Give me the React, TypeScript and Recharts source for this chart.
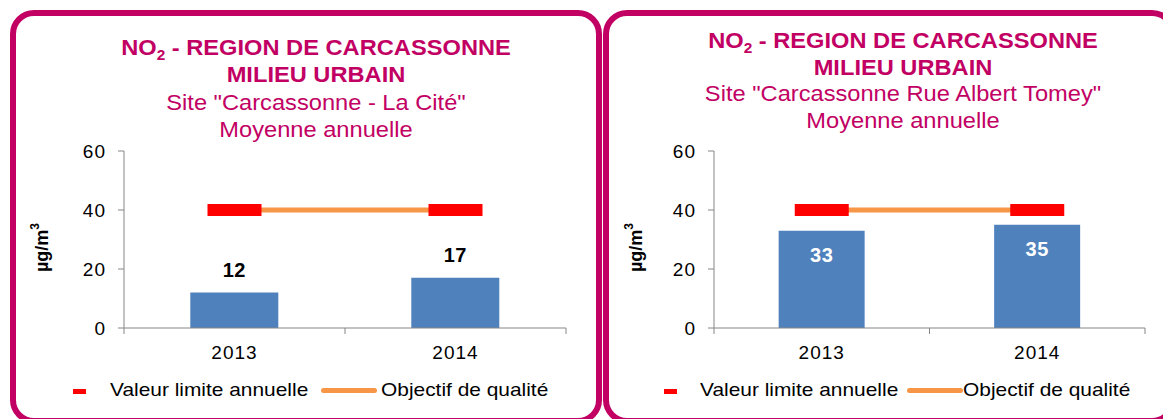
import { Bar, ComposedChart, LabelList, Line, XAxis, YAxis } from 'recharts'

// années et moyennes annuelles NO2 (µg/m3)
const years = ['2013', '2014']
const citeValues = [12, 17]
const tomeyValues = [33, 35]
const limitValues = [40, 40]
const objectiveValues = [40, 40]
const yTicks = [0, 20, 40, 60]

const regionTitle = ' - REGION DE CARCASSONNE'
const milieuTitle = 'MILIEU URBAIN'
const siteCite = 'Site "Carcassonne - La Cité"'
const siteTomey = 'Site "Carcassonne Rue Albert Tomey"'
const avgTitle = 'Moyenne annuelle'
const limitName = 'Valeur limite annuelle'
const objectiveName = 'Objectif de qualité'

const FONT = '"Liberation Sans", Arial, Helvetica, sans-serif'
const MAGENTA = '#C20064'
const BAR = '#4F81BD'
const RED = '#FF0000'
const ORANGE = '#F79646'
const AXIS = '#868686'

function YearTick(props: any) {
  const { x, y, payload, index } = props
  const half = payload?.offset ?? 0
  const axisY = y - 8
  return (
    <g>
      <line x1={x - half} x2={x - half} y1={axisY} y2={axisY + 6} stroke={AXIS} />
      {index === years.length - 1 && (
        <line x1={x + half} x2={x + half} y1={axisY} y2={axisY + 6} stroke={AXIS} />
      )}
      <text x={x} y={y} dy={23} textAnchor="middle" fontSize={19} letterSpacing={1} fill="#000">
        {payload.value}
      </text>
    </g>
  )
}

function UnitLabel({ viewBox }: any) {
  const cx = viewBox.x + 12
  const cy = viewBox.y + viewBox.height / 2 + 8
  return (
    <text
      x={cx}
      y={cy}
      transform={`rotate(-90 ${cx} ${cy})`}
      textAnchor="middle"
      dominantBaseline="central"
      fontSize={18}
      fontWeight="bold"
      fill="#000"
    >
      µg/m<tspan dy={-7} fontSize={12}>3</tspan>
    </text>
  )
}

const limitDash = (p: any) => {
  if (p.cx == null || p.cy == null) return <g key={p.index} />
  return <rect key={p.index} x={p.cx - 27} y={p.cy - 6} width={54} height={12} fill={RED} />
}

const valueLabel = (inside: boolean) => (p: any) => {
  const vb = p.viewBox ?? p
  const x = vb.x + vb.width / 2
  return (
    <text
      x={x}
      y={inside ? vb.y + 31 : vb.y - 16}
      textAnchor="middle"
      fontSize={20}
      fontWeight="bold"
      letterSpacing={0.5}
      fill={inside ? '#fff' : '#000'}
    >
      {p.value}
    </text>
  )
}

const stretched = { transform: 'scaleX(1.1)', transformOrigin: 'left center' }

function Panel({
  frameLeft,
  frameWidth,
  chartLeft,
  chartWidth,
  marginLeft,
  marginRight,
  titleCenter,
  titleTop,
  titleLine,
  site,
  values,
  inside,
  legendX,
}: {
  frameLeft: number
  frameWidth: number
  chartLeft: number
  chartWidth: number
  marginLeft: number
  marginRight: number
  titleCenter: number
  titleTop: number
  titleLine: number
  site: string
  values: number[]
  inside: boolean
  legendX: number[]
}) {
  const data = years.map((year, i) => ({
    year,
    value: values[i],
    limit: limitValues[i],
    objective: objectiveValues[i],
  }))

  return (
    <>
      <div
        style={{
          position: 'absolute',
          left: frameLeft,
          top: 10,
          width: frameWidth,
          height: 414,
          boxSizing: 'border-box',
          border: `6px solid ${MAGENTA}`,
          borderRadius: 24,
        }}
      />
      <div style={{ position: 'absolute', left: chartLeft, top: 0 }}>
        <ComposedChart
          width={chartWidth}
          height={419}
          data={data}
          barCategoryGap="30%"
          margin={{ top: 151, right: marginRight, bottom: 61, left: marginLeft }}
        >
          <XAxis
            dataKey="year"
            height={30}
            axisLine={{ stroke: AXIS }}
            tickLine={false}
            tickSize={6}
            tickMargin={2}
            tick={<YearTick />}
            interval={0}
          />
          <YAxis
            domain={[0, 60]}
            ticks={yTicks}
            width={124 - marginLeft - (chartLeft === 0 ? 0 : 10)}
            axisLine={{ stroke: AXIS }}
            tickLine={{ stroke: AXIS }}
            tickSize={6}
            tickMargin={12}
            tick={{ fontSize: 19, fill: '#000', letterSpacing: 1 }}
            label={<UnitLabel />}
          />
          <Bar dataKey="value" fill={BAR} isAnimationActive={false}>
            <LabelList dataKey="value" content={valueLabel(inside)} />
          </Bar>
          <Line
            dataKey="objective"
            type="linear"
            stroke={ORANGE}
            strokeWidth={5}
            dot={false}
            activeDot={false}
            isAnimationActive={false}
          />
          <Line
            dataKey="limit"
            stroke="none"
            dot={limitDash}
            activeDot={false}
            isAnimationActive={false}
          />
        </ComposedChart>
      </div>
      <div
        style={{
          position: 'absolute',
          left: titleCenter - 260,
          width: 520,
          top: titleTop,
          textAlign: 'center',
          color: MAGENTA,
          fontSize: 21.5,
          lineHeight: `${titleLine}px`,
          whiteSpace: 'nowrap',
          transform: 'scaleX(1.1)',
          transformOrigin: 'center',
        }}
      >
        <div style={{ fontWeight: 'bold' }}>
          NO<sub style={{ fontSize: 14, lineHeight: 0, verticalAlign: -5 }}>2</sub>
          {regionTitle}
        </div>
        <div style={{ fontWeight: 'bold' }}>{milieuTitle}</div>
        <div>{site}</div>
        <div>{avgTitle}</div>
      </div>
      <div style={{ position: 'absolute', left: 0, top: 378, width: '100%', height: 24, fontSize: 19, color: '#000' }}>
        <span style={{ position: 'absolute', left: legendX[0], top: 11, width: 13, height: 5, background: RED }} />
        <span style={{ position: 'absolute', left: legendX[1], top: 0, lineHeight: '24px', whiteSpace: 'nowrap', ...stretched }}>
          {limitName}
        </span>
        <span
          style={{
            position: 'absolute',
            left: legendX[2],
            top: 10,
            width: 56,
            height: 5,
            background: ORANGE,
            borderRadius: 3,
          }}
        />
        <span style={{ position: 'absolute', left: legendX[3], top: 0, lineHeight: '24px', whiteSpace: 'nowrap', ...stretched }}>
          {objectiveName}
        </span>
      </div>
    </>
  )
}

export default function App() {
  return (
    <div
      style={{
        position: 'fixed',
        left: 0,
        top: 0,
        width: 1163,
        height: 419,
        overflow: 'hidden',
        background: '#fff',
        fontFamily: FONT,
      }}
    >
      <Panel
        frameLeft={10}
        frameWidth={592}
        chartLeft={0}
        chartWidth={600}
        marginLeft={30}
        marginRight={34}
        titleCenter={316}
        titleTop={35}
        titleLine={27.4}
        site={siteCite}
        values={citeValues}
        inside={false}
        legendX={[73, 110, 321, 381]}
      />
      <Panel
        frameLeft={603}
        frameWidth={573}
        chartLeft={600}
        chartWidth={563}
        marginLeft={24}
        marginRight={18}
        titleCenter={903}
        titleTop={28}
        titleLine={26.5}
        site={siteTomey}
        values={tomeyValues}
        inside={true}
        legendX={[664, 700, 907, 963]}
      />
    </div>
  )
}
